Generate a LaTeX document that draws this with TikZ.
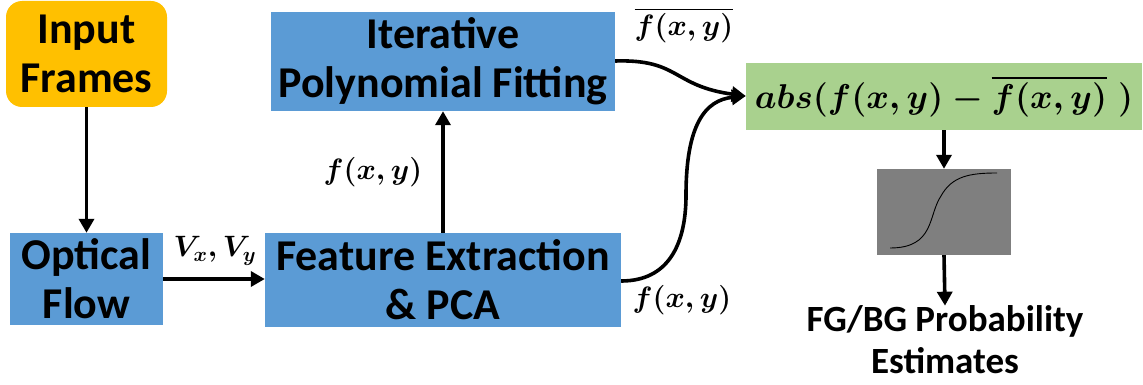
\documentclass[tikz,border=0pt]{standalone}
\usepackage{graphicx}
\usepackage{amsmath,bm}
\usepackage{fontspec}
\setmainfont{Carlito}
\usetikzlibrary{arrows.meta}
\definecolor{inputorange}{HTML}{FFC000}
\definecolor{procblue}{HTML}{5B9BD5}
\definecolor{diffgreen}{HTML}{A9D18E}
\definecolor{sigmagray}{HTML}{7F7F7F}
% bold math, enlarged beyond the fixed math font sizes
\newcommand{\bigmath}[2]{\scalebox{#1}{\fontsize{20}{20}\selectfont\boldmath$\bm{#2}$}}
\tikzset{
  box/.style={draw=none, inner sep=0pt, align=center, text=black,
    font=\fontsize{44}{49}\bfseries\selectfont},
  bluebox/.style={box, fill=procblue},
  flow/.style={line width=3.6pt, -{Triangle[length=14pt,width=15pt]}},
  lbl/.style={inner sep=0pt},
}
\begin{document}
\begin{tikzpicture}[x=1pt,y=-1pt]
\useasboundingbox (0,0) rectangle (1143,385);

% processing blocks
\node[box, fill=inputorange, rounded corners=16pt, minimum width=161pt, minimum height=106pt]
  (input) at (86.5,54) {Input\\Frames};
\node[bluebox, minimum width=153pt, minimum height=92pt]
  (optical) at (86.5,279) {Optical\\Flow};
\node[bluebox, minimum width=356pt, minimum height=94pt]
  (feature) at (443,280) {Feature Extraction\\\& PCA};
\node[bluebox, minimum width=344pt, minimum height=99pt]
  (poly) at (443,61.5) {Iterative\\Polynomial Fitting};
\node[box, fill=diffgreen, minimum width=396pt, minimum height=67pt]
  (diff) at (944,96.5) {\bigmath{1.66}{abs(f(x,y)-\overline{f(x,y)}\;)}};
\node[box, fill=sigmagray, minimum width=134pt, minimum height=86pt]
  (sigmoid) at (944,212) {};
\node[box, font=\fontsize{37}{42}\bfseries\selectfont]
  (out) at (945,340) {FG/BG Probability\\Estimates};

% sigmoid curve inside the gray block
\coordinate (s0) at (890,248);
\coordinate (s1) at (997,173);
\draw[line width=0.9pt] (s0) .. controls (935,248) and (928,215) .. (941,196)
  .. controls (952,176) and (970,173) .. (s1);

% connectors
\draw[flow] (input.south) -- (optical.north);
\draw[flow] (optical.east |- 0,279) -- (feature.west |- 0,279);
\draw[flow] (feature.north) -- (poly.south);
\coordinate (dtop) at (diff.west |- 0,96);
\draw[flow] (poly.east |- 0,61) .. controls (680,59) and (672,86) .. (dtop);
\draw[flow] (feature.east |- 0,281) .. controls (668,281) and (686,245) .. (686,195)
  .. controls (686,125) and (705,100) .. (dtop);
\draw[flow] (diff.south) -- (sigmoid.north);
\draw[flow] (sigmoid.south) -- (out.north);

% connector labels
\node[lbl] (lvxy) at (215,251) {\bigmath{1.42}{V_x,V_y}};
\node[lbl] (lfup) at (373,172) {\bigmath{1.42}{f(x,y)}};
\node[lbl] (lfbar) at (684,25) {\bigmath{1.42}{\overline{f(x,y)}}};
\node[lbl] (lflow) at (682,300) {\bigmath{1.42}{f(x,y)}};
\end{tikzpicture}
\end{document}
